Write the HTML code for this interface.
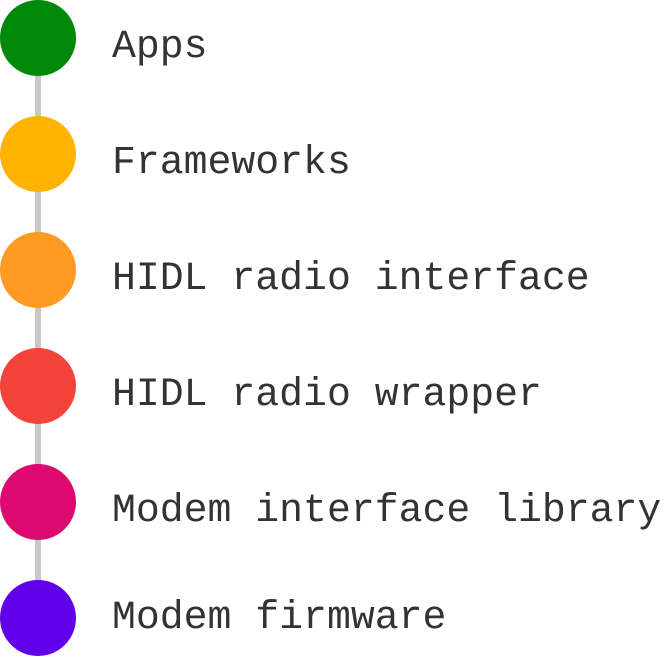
<!DOCTYPE html>
<html><head><meta charset="utf-8"><style>html,body{margin:0;padding:0;background:#fff}svg{display:block}</style></head>
<body>
<svg width="668" height="656" viewBox="0 0 668 656" xmlns="http://www.w3.org/2000/svg">
<rect x="35" y="38" width="6" height="580" fill="#c8c8c8"/>
<circle cx="38" cy="38" r="38" fill="#00880a"/>
<circle cx="38" cy="154" r="38" fill="#ffb300"/>
<circle cx="38" cy="270" r="38" fill="#ff9a22"/>
<circle cx="38" cy="386" r="38" fill="#f4433a"/>
<circle cx="38" cy="502" r="38" fill="#dc0a70"/>
<circle cx="38" cy="618" r="38" fill="#6200ea"/>
<g font-family="Liberation Mono, monospace" font-size="39.8" fill="#333">
<text x="112" y="57">Apps</text>
<text x="112" y="173">Frameworks</text>
<text x="112" y="289">HIDL radio interface</text>
<text x="112" y="405">HIDL radio wrapper</text>
<text x="112" y="521">Modem interface library</text>
<text x="112" y="628">Modem firmware</text>
</g>
</svg>
</body></html>
